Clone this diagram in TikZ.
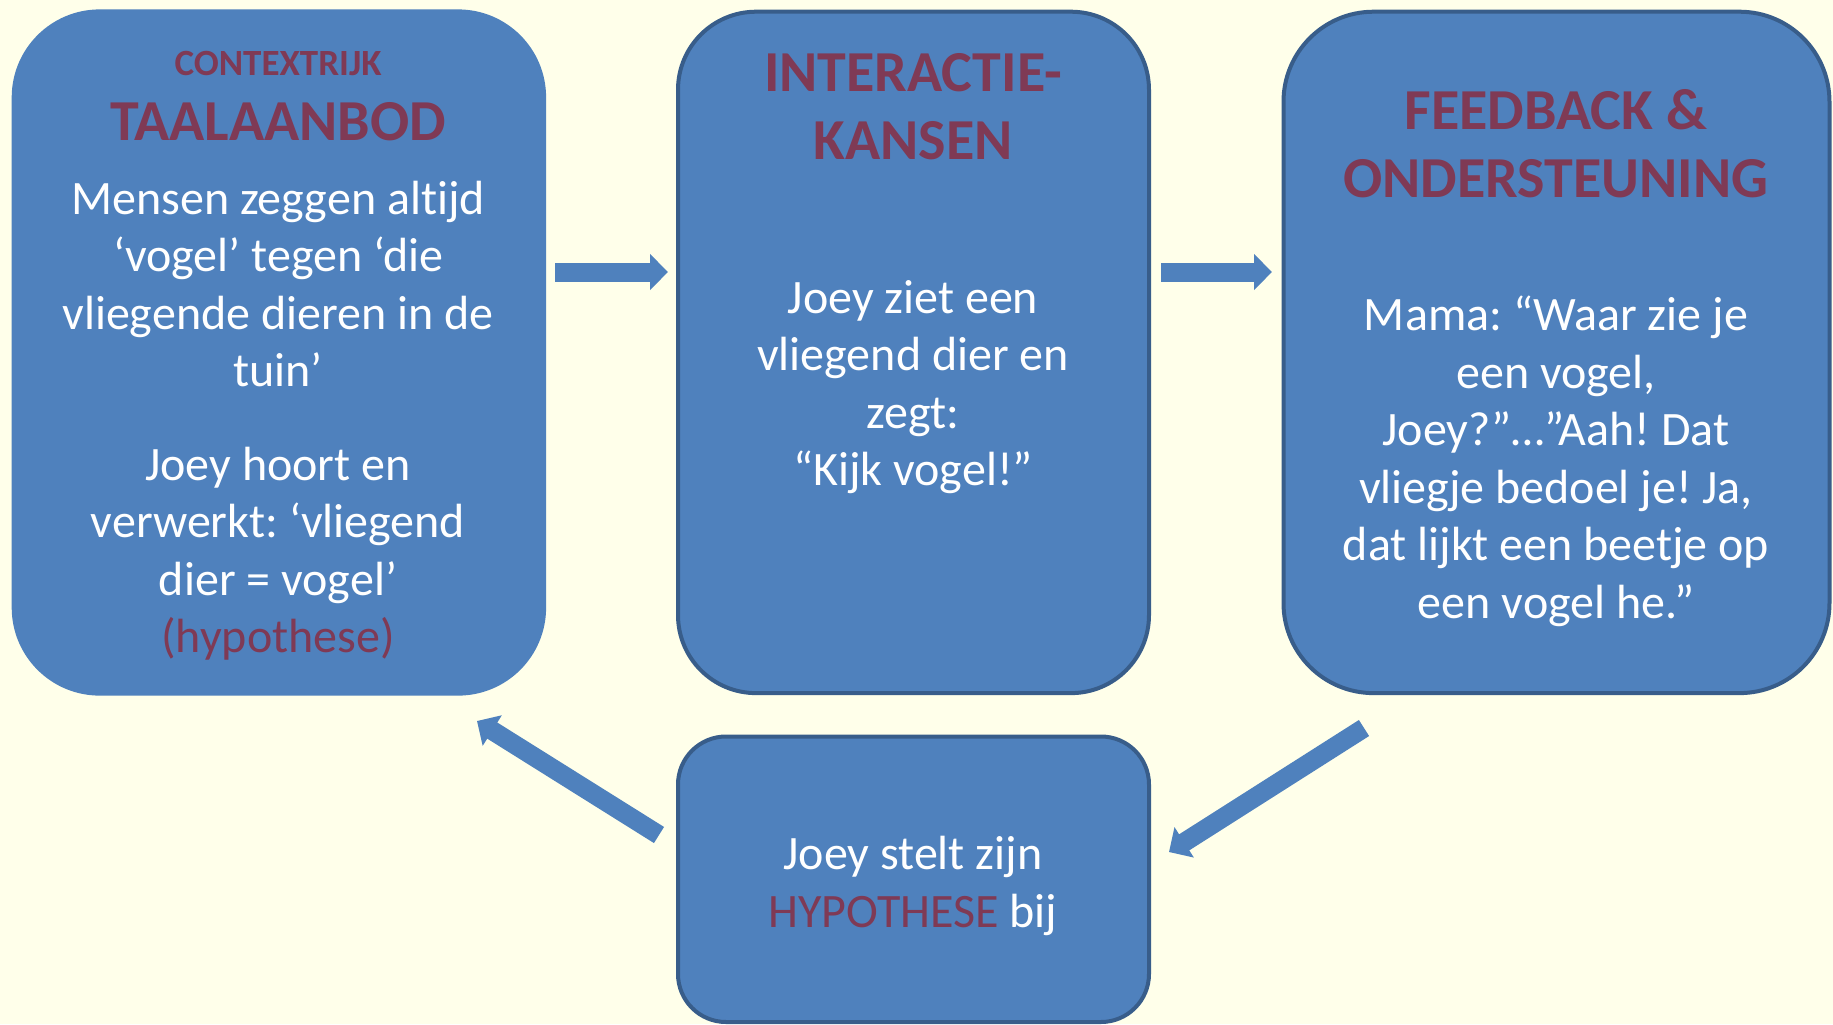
\documentclass[tikz,border=0pt]{standalone}
\usepackage{fontspec}
\setmainfont{Carlito}[Ligatures={NoCommon}]
\usetikzlibrary{arrows.meta}
\definecolor{bg}{HTML}{FFFFEA}
\definecolor{boxblue}{HTML}{4F81BD}
\definecolor{boxline}{HTML}{385D8A}
\definecolor{titlered}{HTML}{7F3A55}
\newcommand{\mylines}[1]{\begin{tabular}[t]{@{}c@{}}#1\end{tabular}}
\frenchspacing
\begin{document}
\frenchspacing
\begin{tikzpicture}[x=0.5pt,y=-0.5pt,
  box/.style={rectangle, fill=boxblue, inner sep=0pt},
  framed/.style={box, draw=boxline, line width=2pt},
  bodytext/.style={text=white, inner sep=0pt, anchor=base, font=\fontsize{24}{28.8}\selectfont},
  titletext/.style={text=titlered, inner sep=0pt, anchor=base, font=\bfseries\fontsize{29}{34}\selectfont},
  smalltitle/.style={text=titlered, inner sep=0pt, anchor=base, font=\bfseries\fontsize{18.5}{22}\selectfont},
  blockarrow/.style={draw=boxblue, line width=9.5pt, -{Triangle[width=17.5pt,length=9pt]}}
]
\path[use as bounding box, fill=bg] (0,0) rectangle (1833,1024);

% boxes
\node[box, rounded corners=44pt, minimum width=267.2pt, minimum height=343.1pt] (b1) at (278.9,352.5) {};
\node[framed, rounded corners=39pt, minimum width=235.5pt, minimum height=340.7pt] (b2) at (913.5,352.4) {};
\node[framed, rounded corners=45pt, minimum width=273pt, minimum height=340.7pt] (b3) at (1556.5,352.4) {};
\node[framed, rounded corners=24pt, minimum width=235.5pt, minimum height=142.75pt] (b4) at (913.5,879.25) {};

% box 1 text
\node[smalltitle] (t1a) at (278,75) {CONTEXTRIJK};
\node[titletext] (t1b) at (278,140) {TAALAANBOD};
\node[bodytext] (t1c) at (278,214) {\mylines{Mensen zeggen altijd\\‘vogel’ tegen ‘die\\vliegende dieren in de\\tuin’}};
\node[bodytext] (t1d) at (278,480) {\mylines{Joey hoort en\\verwerkt: ‘vliegend\\dier = vogel’\\\textcolor{titlered}{(hypothese)}}};

% box 2 text
\node[titletext] (t2a) at (913,91) {\mylines{INTERACTIE-\\KANSEN}};
\node[bodytext] (t2b) at (913,313) {\mylines{Joey ziet een\\vliegend dier en\\zegt:\\“Kijk vogel!”}};

% box 3 text
\node[titletext] (t3a) at (1556,129.5) {\mylines{FEEDBACK \&\\ONDERSTEUNING}};
\node[bodytext] (t3b) at (1556,330.5) {\mylines{Mama: “Waar zie je\\een vogel,\\Joey?”…”Aah! Dat\\vliegje bedoel je! Ja,\\dat lijkt een beetje op\\een vogel he.”}};

% box 4 text
\node[bodytext] (t4) at (913,869.5) {\mylines{Joey stelt zijn\\\textcolor{titlered}{HYPOTHESE} bij}};

% arrows
\coordinate (a1s) at (555,272);
\coordinate (a1e) at (668,272);
\coordinate (a2s) at (1161,272);
\coordinate (a2e) at (1272,272);
\coordinate (a3s) at (659,835);
\coordinate (a3e) at (477,721);
\coordinate (a4s) at (1364,728);
\coordinate (a4e) at (1169,852);
\draw[blockarrow] (a1s) -- (a1e);
\draw[blockarrow] (a2s) -- (a2e);
\draw[blockarrow] (a3s) -- (a3e);
\draw[blockarrow] (a4s) -- (a4e);
\end{tikzpicture}
\end{document}
